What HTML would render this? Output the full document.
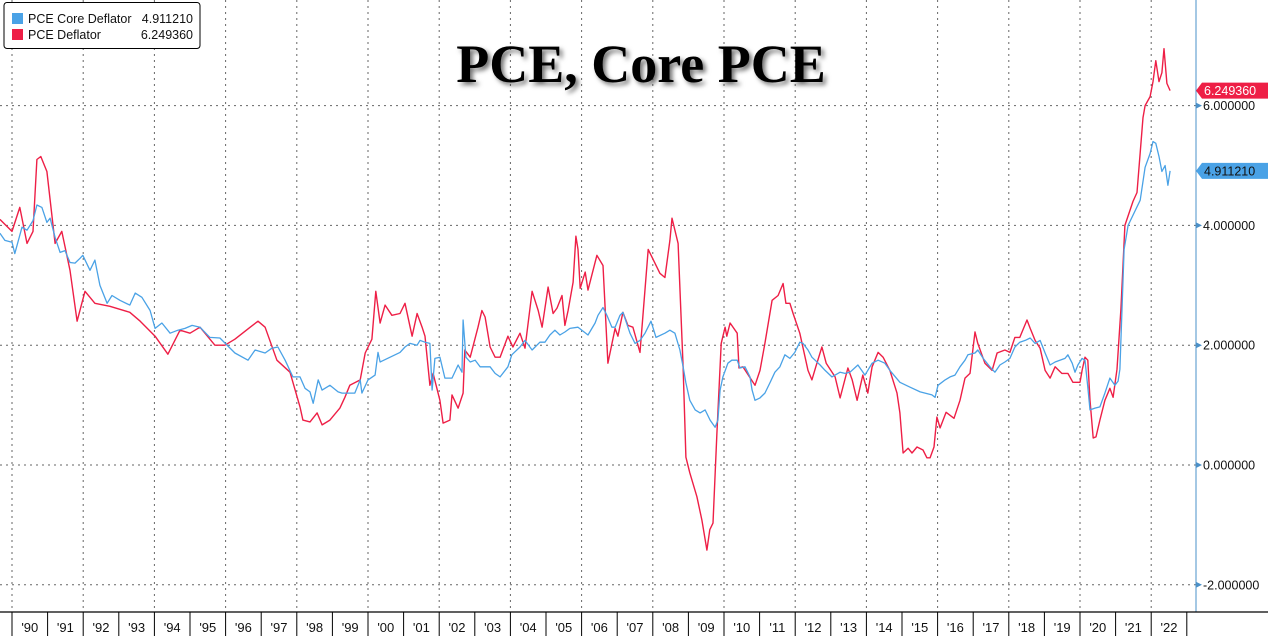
<!DOCTYPE html>
<html><head><meta charset="utf-8">
<style>
html,body{margin:0;padding:0;background:#fff;}
#wrap{position:relative;width:1268px;height:636px;overflow:hidden;font-family:"Liberation Sans",sans-serif;}
svg{position:absolute;left:0;top:0;}
</style></head>
<body>
<div id="wrap">
<svg id="chart" width="1268" height="636"></svg>
</div>
<script>
const yTicks=[-2,0,2,4,6];
const yTickLabels=["-2.000000","0.000000","2.000000","4.000000","6.000000"];
const yearLabels=["'90","'91","'92","'93","'94","'95","'96","'97","'98","'99","'00","'01","'02","'03","'04","'05","'06","'07","'08","'09","'10","'11","'12","'13","'14","'15","'16","'17","'18","'19","'20","'21","'22"];
const firstYear=1990;
const legendNames=["PCE Core Deflator","PCE Deflator"];
const lastCore=4.911210;
const lastPce=6.249360;
const pceDates=[1989.66,1990.00,1990.22,1990.42,1990.59,1990.70,1990.81,1990.98,1991.21,1991.40,1991.63,1991.83,1992.05,1992.33,1992.75,1993.31,1993.60,1994.02,1994.38,1994.72,1995.00,1995.28,1995.70,1995.98,1996.26,1996.69,1996.91,1997.11,1997.44,1997.81,1998.09,1998.17,1998.37,1998.57,1998.71,1998.93,1999.21,1999.35,1999.49,1999.78,1999.92,2000.11,2000.22,2000.34,2000.48,2000.67,2000.90,2001.04,2001.24,2001.38,2001.52,2001.60,2001.74,2001.83,2002.02,2002.11,2002.30,2002.36,2002.53,2002.67,2002.72,2002.87,2003.09,2003.20,2003.29,2003.43,2003.57,2003.71,2003.93,2004.07,2004.27,2004.41,2004.61,2004.78,2004.89,2005.06,2005.20,2005.31,2005.45,2005.53,2005.62,2005.76,2005.84,2005.90,2005.96,2006.10,2006.18,2006.43,2006.60,2006.74,2006.94,2007.02,2007.16,2007.30,2007.44,2007.64,2007.87,2008.06,2008.20,2008.34,2008.48,2008.54,2008.62,2008.71,2008.85,2008.93,2009.04,2009.24,2009.38,2009.52,2009.60,2009.69,2009.80,2009.92,2010.03,2010.08,2010.17,2010.37,2010.42,2010.53,2010.87,2011.01,2011.15,2011.35,2011.52,2011.66,2011.74,2011.85,2011.94,2012.13,2012.36,2012.47,2012.58,2012.75,2012.87,2013.12,2013.26,2013.48,2013.60,2013.74,2013.90,2014.04,2014.16,2014.33,2014.47,2014.66,2014.86,2014.94,2015.03,2015.17,2015.28,2015.42,2015.59,2015.70,2015.79,2015.90,2015.98,2016.07,2016.24,2016.46,2016.63,2016.77,2016.91,2017.05,2017.13,2017.33,2017.53,2017.67,2017.89,2018.03,2018.17,2018.31,2018.51,2018.60,2018.74,2018.88,2019.02,2019.16,2019.30,2019.49,2019.66,2019.80,2020.00,2020.06,2020.14,2020.22,2020.28,2020.37,2020.45,2020.56,2020.70,2020.84,2020.93,2021.04,2021.15,2021.26,2021.49,2021.60,2021.77,2021.83,2021.97,2022.05,2022.13,2022.22,2022.30,2022.36,2022.44,2022.53];
const pceValues=[4.1,3.9,4.3,3.7,3.9,5.1,5.15,4.9,3.7,3.9,3.25,2.4,2.9,2.7,2.65,2.55,2.4,2.15,1.85,2.25,2.2,2.3,2.0,2.0,2.1,2.3,2.4,2.3,1.75,1.55,0.97,0.75,0.72,0.87,0.67,0.75,0.95,1.13,1.33,1.42,1.87,2.1,2.9,2.37,2.67,2.5,2.53,2.7,2.15,2.53,2.3,2.15,1.33,1.53,1.08,0.7,0.75,1.17,0.95,1.2,1.92,1.8,2.3,2.58,2.47,1.97,1.8,1.8,2.15,1.97,2.2,1.95,2.9,2.58,2.3,2.97,2.53,2.62,2.83,2.33,2.58,3.05,3.82,3.6,2.95,3.22,2.92,3.5,3.33,1.7,2.28,2.15,2.55,2.33,2.3,1.88,3.6,3.37,3.2,3.13,3.75,4.12,3.92,3.7,1.64,0.13,-0.13,-0.53,-0.92,-1.42,-1.08,-0.97,0.53,2.03,2.3,2.15,2.37,2.2,1.62,1.64,1.33,1.58,2.03,2.75,2.83,3.03,2.7,2.7,2.53,2.2,1.58,1.42,1.64,1.97,1.7,1.47,1.12,1.62,1.42,1.08,1.5,1.2,1.64,1.88,1.8,1.58,1.2,0.87,0.2,0.28,0.2,0.3,0.25,0.12,0.12,0.3,0.8,0.62,0.88,0.78,1.08,1.45,1.53,2.22,2.03,1.7,1.58,1.87,1.92,1.88,2.13,2.13,2.42,2.28,2.08,1.95,1.58,1.45,1.64,1.53,1.53,1.38,1.38,1.58,1.8,1.75,1.08,0.45,0.47,0.75,1.08,1.28,1.13,1.6,2.6,4.0,4.4,4.55,5.8,6.0,6.15,6.4,6.75,6.4,6.55,6.95,6.37,6.25];
const coreDates=[1989.66,1989.80,1990.00,1990.08,1990.28,1990.42,1990.59,1990.70,1990.84,1990.98,1991.07,1991.21,1991.35,1991.49,1991.63,1991.77,1991.91,1991.99,1992.19,1992.33,1992.47,1992.67,1992.81,1993.03,1993.31,1993.46,1993.65,1993.88,1994.02,1994.21,1994.44,1994.66,1994.86,1995.06,1995.28,1995.56,1995.84,1996.26,1996.63,1996.83,1997.11,1997.30,1997.47,1997.67,1997.89,1998.09,1998.23,1998.37,1998.46,1998.60,1998.71,1998.93,1999.16,1999.27,1999.63,1999.78,1999.83,2000.00,2000.20,2000.28,2000.34,2000.62,2000.90,2001.04,2001.18,2001.38,2001.46,2001.60,2001.74,2001.80,2001.88,2002.02,2002.16,2002.36,2002.53,2002.64,2002.67,2002.75,2002.87,2003.01,2003.15,2003.43,2003.57,2003.71,2003.93,2004.04,2004.27,2004.41,2004.61,2004.83,2004.97,2005.11,2005.25,2005.39,2005.53,2005.67,2005.90,2006.18,2006.38,2006.46,2006.60,2006.71,2006.85,2006.94,2007.08,2007.16,2007.36,2007.50,2007.64,2007.78,2007.95,2008.09,2008.34,2008.48,2008.62,2008.76,2008.85,2008.93,2009.04,2009.19,2009.33,2009.47,2009.61,2009.75,2009.83,2009.89,2009.97,2010.11,2010.22,2010.37,2010.45,2010.59,2010.73,2010.79,2010.87,2011.01,2011.15,2011.29,2011.43,2011.57,2011.71,2011.85,2011.99,2012.13,2012.22,2012.36,2012.47,2012.56,2012.70,2012.84,2013.03,2013.26,2013.40,2013.54,2013.76,2013.96,2014.16,2014.33,2014.52,2014.66,2014.94,2015.22,2015.51,2015.84,2015.93,2016.01,2016.21,2016.35,2016.49,2016.63,2016.77,2016.85,2017.05,2017.13,2017.28,2017.47,2017.61,2017.75,2017.89,2018.03,2018.17,2018.31,2018.46,2018.60,2018.74,2018.88,2019.02,2019.16,2019.30,2019.58,2019.66,2019.78,2019.86,2019.94,2020.06,2020.14,2020.22,2020.28,2020.42,2020.56,2020.70,2020.84,2020.98,2021.07,2021.12,2021.24,2021.35,2021.69,2021.83,2021.97,2022.05,2022.13,2022.22,2022.30,2022.39,2022.47,2022.53];
const coreValues=[3.87,3.75,3.72,3.53,3.97,3.92,4.08,4.34,4.3,4.05,4.12,3.8,3.55,3.58,3.38,3.37,3.45,3.5,3.25,3.42,3.0,2.7,2.83,2.75,2.67,2.87,2.8,2.58,2.28,2.37,2.2,2.25,2.28,2.33,2.3,2.13,2.12,1.87,1.75,1.92,1.87,1.95,1.97,1.75,1.47,1.47,1.28,1.22,1.03,1.42,1.25,1.33,1.22,1.2,1.2,1.42,1.2,1.42,1.5,1.88,1.72,1.8,1.88,1.97,2.03,2.0,2.08,2.05,2.03,1.25,1.78,1.8,1.45,1.45,1.67,1.55,2.42,1.8,1.72,1.75,1.64,1.64,1.53,1.47,1.64,1.84,1.97,2.08,1.92,2.05,2.05,2.17,2.25,2.17,2.22,2.28,2.3,2.17,2.37,2.5,2.63,2.5,2.3,2.3,2.5,2.55,2.2,2.03,2.08,2.2,2.4,2.13,2.2,2.25,2.2,1.92,1.64,1.37,1.08,0.92,0.87,0.92,0.75,0.63,0.75,1.25,1.47,1.7,1.75,1.75,1.62,1.64,1.47,1.25,1.08,1.12,1.2,1.37,1.55,1.64,1.84,1.78,1.88,2.05,2.03,1.92,1.8,1.75,1.67,1.58,1.47,1.55,1.53,1.55,1.67,1.5,1.7,1.75,1.7,1.58,1.38,1.3,1.22,1.17,1.13,1.33,1.42,1.47,1.5,1.64,1.75,1.84,1.87,1.92,1.78,1.64,1.55,1.67,1.72,1.78,1.97,2.05,2.08,2.12,2.03,2.08,1.87,1.67,1.72,1.78,1.84,1.7,1.55,1.67,1.78,1.75,1.3,0.92,0.95,0.97,1.2,1.45,1.33,1.4,1.6,3.6,4.0,4.42,4.97,5.2,5.4,5.37,5.15,4.9,5.0,4.67,4.91];

const NS="http://www.w3.org/2000/svg";
const svg=document.getElementById('chart');
const plotRight=1196, axisY=612;
function xScale(t){return 12+(t-firstYear)*35.6;}
function yScale(v){return 465-v*59.9;}
function mk(tag,attrs,parent){const e=document.createElementNS(NS,tag);for(const k in attrs)e.setAttribute(k,attrs[k]);(parent||svg).appendChild(e);return e;}

yTicks.forEach((v,i)=>{
  const g=mk('line',{x1:0,x2:plotRight,y1:yScale(v),y2:yScale(v),stroke:'#666','stroke-width':1,'stroke-dasharray':'2,4'});
  
  
});
for(let i=0;i<yearLabels.length;i+=2){
  const x=xScale(firstYear+i);
  const g=mk('line',{x1:x,x2:x,y1:0,y2:axisY,stroke:'#666','stroke-width':1,'stroke-dasharray':'2,4'});
  
  
}
function linePath(dates,vals){return dates.map((d,i)=>(i?'L':'M')+xScale(d).toFixed(1)+','+yScale(vals[i]).toFixed(1)).join('');}
const pl=mk('path',{d:linePath(pceDates,pceValues),fill:'none',stroke:'#ee1f46','stroke-width':1.4,'stroke-linejoin':'round'});


const cl=mk('path',{d:linePath(coreDates,coreValues),fill:'none',stroke:'#4aa2e6','stroke-width':1.3,'stroke-linejoin':'round'});



const ra=mk('line',{x1:plotRight,x2:plotRight,y1:0,y2:axisY,stroke:'#4a90c8','stroke-width':1});


yTicks.forEach((v,i)=>{
  const y=yScale(v);
  const tri=mk('path',{d:`M${plotRight},${y-3}L${plotRight+6},${y}L${plotRight},${y+3}Z`,fill:'#4a90c8'});
  
  
  const t=mk('text',{x:plotRight+7,y:y+4.5,'font-size':12.5,fill:'#111','font-family':'"Liberation Sans",sans-serif'});
  t.textContent=yTickLabels[i];
  
  
});
function badge(v,fill,txtColor,name){
  const y=yScale(v);
  const p=mk('path',{d:`M${plotRight},${y}L${plotRight+6},${y-8}L1268,${y-8}L1268,${y+8}L${plotRight+6},${y+8}Z`,fill:fill});
  
  
  const t=mk('text',{x:plotRight+8,y:y+4.5,'font-size':12.5,fill:txtColor,'font-family':'"Liberation Sans",sans-serif'});
  t.textContent=v.toFixed(6);
  
  
}
badge(lastPce,'#ee1f46','#fff','pce-last-value');
badge(lastCore,'#4aa2e6','#111','core-last-value');

const xa=mk('line',{x1:0,x2:1268,y1:axisY,y2:axisY,stroke:'#000','stroke-width':1.2});


yearLabels.forEach((lab,i)=>{
  const x0=xScale(firstYear+i), x1=xScale(firstYear+i+1);
  const s=mk('line',{x1:x0,x2:x0,y1:axisY,y2:636,stroke:'#000','stroke-width':1});
  
  
  const t=mk('text',{x:(x0+x1)/2,y:632,'font-size':13,'text-anchor':'middle',fill:'#111','font-family':'"Liberation Sans",sans-serif'});
  t.textContent=lab;
  
  
});
const sEnd=mk('line',{x1:xScale(firstYear+yearLabels.length),x2:xScale(firstYear+yearLabels.length),y1:axisY,y2:636,stroke:'#000','stroke-width':1});



const defs=mk('defs',{});
const f=mk('filter',{id:'sh',x:'-10%',y:'-30%',width:'120%',height:'160%'},defs);
mk('feDropShadow',{dx:3,dy:3,stdDeviation:2.5,'flood-color':'#000','flood-opacity':0.55},f);
const title=mk('text',{x:641,y:82,'font-size':54,'font-weight':'bold','text-anchor':'middle',fill:'#000','font-family':'"Liberation Serif",serif',filter:'url(#sh)'});
title.textContent='PCE, Core PCE';



const lg=mk('g',{});


mk('rect',{x:4,y:2.5,width:196,height:46,rx:3,fill:'#fff',stroke:'#000','stroke-width':1},lg);
const legColors=['#4aa2e6','#ee1f46'];
const legVals=[lastCore,lastPce];
legendNames.forEach((n,i)=>{
  const y=13+i*16;
  const sw=mk('rect',{x:12,y:y,width:11,height:11,fill:legColors[i]},lg);
  
  
  const t=mk('text',{x:28,y:y+10,'font-size':12.5,fill:'#111','font-family':'"Liberation Sans",sans-serif'},lg);
  t.textContent=n;
  
  
  const tv=mk('text',{x:193,y:y+10,'font-size':12.5,'text-anchor':'end',fill:'#111','font-family':'"Liberation Sans",sans-serif'},lg);
  tv.textContent=legVals[i].toFixed(6);
  
  
});
</script>
</body></html>
